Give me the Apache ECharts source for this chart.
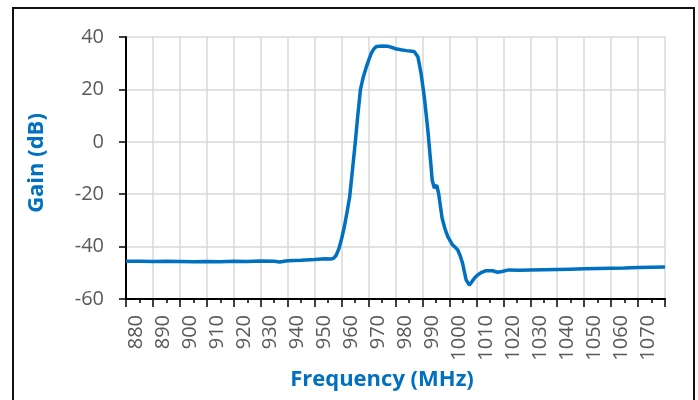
<!DOCTYPE html>
<html>
<head>
<meta charset="utf-8">
<script src="https://cdn.jsdelivr.net/npm/echarts@6/dist/echarts.min.js"></script>
<style>html,body{margin:0;padding:0;background:#fff}#c{width:698px;height:400px}</style>
</head>
<body>
<div id="c"></div>
<script>
var freqMHz = [880,885,890,895,900,905,910,915,920,925,930,935,937,940,945,950,954,956,957,958,959,960,961,962,963,964,965,966,967,968,969,970,971,972,973,975,977,979,980,982,984,986,987,988.3,989.5,990.7,992,993.2,993.6,994.4,995.3,996,997.3,998.3,999.4,1000.3,1001.2,1002.2,1003.1,1004,1004.9,1006.2,1007.4,1008.6,1009.5,1010.5,1012,1013.6,1016,1017.9,1019.5,1022,1026,1030,1035,1040,1045,1050,1055,1060,1065,1070,1075,1080];
var gainDb = [-45.6,-45.6,-45.7,-45.6,-45.7,-45.8,-45.7,-45.8,-45.6,-45.7,-45.5,-45.6,-45.9,-45.4,-45.2,-44.9,-44.6,-44.7,-44.5,-43.3,-40.8,-37,-32.5,-27,-21,-11,-1,10,20,24.5,28,31,33.8,35.5,36.4,36.6,36.5,35.9,35.5,35.1,34.8,34.6,34.4,32.5,26,17,4.5,-9.5,-14.6,-17.7,-16.5,-19.7,-29.2,-33,-36.2,-37.8,-39.4,-40.3,-41.3,-43.5,-46.4,-52.7,-54.7,-53,-51.8,-50.8,-49.8,-49.2,-49.2,-49.8,-49.5,-48.9,-49.0,-48.9,-48.8,-48.7,-48.6,-48.5,-48.4,-48.3,-48.2,-48.0,-47.9,-47.8];
var yTicks = [-60,-40,-20,0,20,40];

var data = freqMHz.map(function(f,i){return [f,gainDb[i]];});
var chart = echarts.init(document.getElementById('c'));
chart.setOption({
  animation:false,
  backgroundColor:'#fff',
  graphic:[{type:'rect',shape:{x:13,y:8,width:681,height:420},style:{fill:'none',stroke:'#111',lineWidth:2},silent:true}],
  grid:{left:126,top:37,right:33,bottom:101},
  xAxis:{
    type:'value',min:880,max:1080,interval:10,
    name:'Frequency (MHz)',nameLocation:'middle',nameGap:64,
    nameTextStyle:{fontFamily:'Open Sans',fontWeight:'bold',fontSize:22,color:'#0070C0',padding:[0,27,0,0]},
    axisLine:{show:true,onZero:false,lineStyle:{color:'#000',width:2}},
    axisTick:{show:true,length:8,lineStyle:{color:'#000',width:1.5}},
    minorTick:{show:true,splitNumber:2,length:4,lineStyle:{color:'#000',width:1.5}},
    axisLabel:{rotate:90,margin:16,fontFamily:'Open Sans',fontSize:20,color:'#595959',showMaxLabel:false,
      verticalAlign:'top',formatter:function(v){return String(v);}},
    splitLine:{show:true,lineStyle:{color:'#d9d9d9',width:1.5}}
  },
  yAxis:{
    type:'value',min:-60,max:40,interval:20,
    name:'Gain (dB)',nameLocation:'middle',nameGap:78,
    nameTextStyle:{fontFamily:'Open Sans',fontWeight:'bold',fontSize:22,color:'#0070C0',padding:[0,0,0,10]},
    axisLine:{show:true,lineStyle:{color:'#000',width:2}},
    axisTick:{show:true,length:7,lineStyle:{color:'#000',width:1.5}},
    axisLabel:{margin:22,fontFamily:'Open Sans',fontSize:20,color:'#595959',
      formatter:function(v){return String(v);}},
    splitLine:{show:true,lineStyle:{color:'#d9d9d9',width:1.5}}
  },
  series:[{type:'line',data:data,showSymbol:false,smooth:false,
    lineStyle:{color:'#0070C0',width:3.5},itemStyle:{color:'#0070C0'}}]
});
</script>
</body>
</html>
